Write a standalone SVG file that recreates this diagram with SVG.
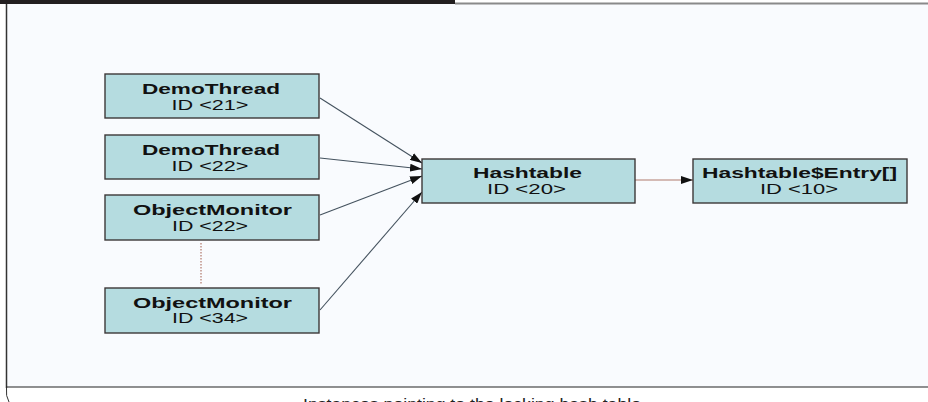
<svg xmlns="http://www.w3.org/2000/svg" width="928" height="402" viewBox="0 0 928 402">
  <style>
    .node rect { fill: #b5dce0; stroke: #3d3838; stroke-width: 1.4; }
    .title { font-family: "Liberation Sans", Arial, sans-serif; font-size: 14px; font-weight: bold; fill: #111; }
    .sub { font-family: "Liberation Sans", Arial, sans-serif; font-size: 14px; fill: #111; }
    .edge { stroke: #44525e; stroke-width: 1.1; fill: none; marker-end: url(#arrow); }
    .edge.ref { stroke: #b07a6c; }
    .caption { font-family: "Liberation Sans", Arial, sans-serif; font-size: 15px; fill: #222; }
  </style>
  <defs>
    <marker id="arrow" viewBox="0 0 12 8" refX="12" refY="4" markerWidth="12" markerHeight="8" markerUnits="userSpaceOnUse" orient="auto">
      <path d="M0,0 L12,4 L0,8 Z" fill="#111"/>
    </marker>
  </defs>

  <!-- page background and frame -->
  <rect x="0" y="0" width="928" height="402" fill="#ffffff"/>
  <rect x="6.5" y="4" width="921.5" height="383" fill="#f9fbfe"/>
  <rect x="0" y="0" width="455" height="4" fill="#231f20"/>
  <rect x="455" y="2.5" width="473" height="2" fill="#8a8a8a"/>
  <line x1="6.5" y1="4" x2="6.5" y2="388" stroke="#333" stroke-width="1.5"/>
  <line x1="6" y1="387" x2="928" y2="387" stroke="#222" stroke-width="1.2"/>
  <path d="M6.5,388 Q5.5,396 9,402" fill="none" stroke="#333" stroke-width="1"/>

  <!-- connectors -->
  <g id="connectors">
    <line class="edge" x1="320" y1="98" x2="422" y2="163"/>
    <line class="edge" x1="320" y1="158" x2="422" y2="169"/>
    <line class="edge" x1="320" y1="215" x2="422" y2="176"/>
    <line class="edge" x1="320" y1="310" x2="422" y2="192"/>
    <line class="edge ref" x1="635" y1="180" x2="693" y2="180"/>
    <line x1="201" y1="243" x2="201" y2="284" stroke="#a05a4a" stroke-width="1" stroke-dasharray="1.5,1.5"/>
  </g>

  <!-- nodes -->
  <g id="demothread-21" class="node">
    <rect x="105" y="74" width="214" height="44"/>
    <text class="title" x="211" y="93.5" text-anchor="middle" textLength="138" lengthAdjust="spacingAndGlyphs">DemoThread</text>
    <text class="sub" x="210" y="109.5" text-anchor="middle" textLength="77" lengthAdjust="spacingAndGlyphs">ID &lt;21&gt;</text>
  </g>
  <g id="demothread-22" class="node">
    <rect x="105" y="135" width="214" height="44"/>
    <text class="title" x="211" y="154.5" text-anchor="middle" textLength="138" lengthAdjust="spacingAndGlyphs">DemoThread</text>
    <text class="sub" x="210" y="170.5" text-anchor="middle" textLength="77" lengthAdjust="spacingAndGlyphs">ID &lt;22&gt;</text>
  </g>
  <g id="objectmonitor-22" class="node">
    <rect x="105" y="195" width="214" height="45"/>
    <text class="title" x="212.5" y="215" text-anchor="middle" textLength="159" lengthAdjust="spacingAndGlyphs">ObjectMonitor</text>
    <text class="sub" x="210" y="230.5" text-anchor="middle" textLength="76" lengthAdjust="spacingAndGlyphs">ID &lt;22&gt;</text>
  </g>
  <g id="objectmonitor-34" class="node">
    <rect x="105" y="288" width="214" height="45"/>
    <text class="title" x="212.5" y="307.5" text-anchor="middle" textLength="159" lengthAdjust="spacingAndGlyphs">ObjectMonitor</text>
    <text class="sub" x="210" y="323" text-anchor="middle" textLength="76" lengthAdjust="spacingAndGlyphs">ID &lt;34&gt;</text>
  </g>
  <g id="hashtable-20" class="node">
    <rect x="422" y="159" width="213" height="44"/>
    <text class="title" x="527.5" y="178" text-anchor="middle" textLength="109" lengthAdjust="spacingAndGlyphs">Hashtable</text>
    <text class="sub" x="526.5" y="194" text-anchor="middle" textLength="79" lengthAdjust="spacingAndGlyphs">ID &lt;20&gt;</text>
  </g>
  <g id="entry-10" class="node">
    <rect x="693" y="159" width="214" height="44"/>
    <text class="title" x="799.5" y="178" text-anchor="middle" textLength="195" lengthAdjust="spacingAndGlyphs">Hashtable$Entry[]</text>
    <text class="sub" x="799" y="194" text-anchor="middle" textLength="78" lengthAdjust="spacingAndGlyphs">ID &lt;10&gt;</text>
  </g>

  <!-- figure caption, clipped by the page edge -->
  <text class="caption" x="472" y="409" text-anchor="middle" textLength="338" lengthAdjust="spacingAndGlyphs">Instances pointing to the locking hash table</text>
</svg>
